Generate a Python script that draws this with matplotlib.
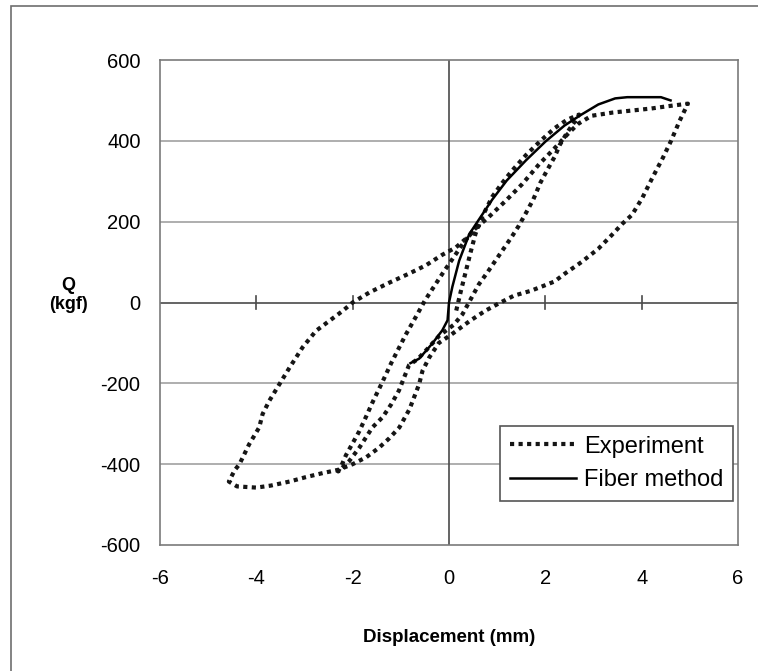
import matplotlib
matplotlib.use("Agg")
import matplotlib.pyplot as plt
from matplotlib.patches import Rectangle

plt.rcParams["font.family"] = ["Liberation Sans", "DejaVu Sans"]
plt.rcParams["axes.unicode_minus"] = False

# Experiment (cyclic test)
exp_x = [0.15, 0.25, 0.35, 0.45, 0.55, 0.7, 0.9, 1.1, 1.3, 1.6, 1.9, 2.2, 2.45, 2.7,
         2.6, 2.45, 2.3, 2.2, 2.05, 1.9, 1.75, 1.6, 1.45, 1.3, 1.0, 0.8, 0.62, 0.45,
         0.28, 0.1, -0.2, -0.45, -0.65, -0.83, -1.04, -1.2, -1.38, -1.59, -1.86,
         -2.07, -2.3,
         -2.22, -2.14, -2.0, -1.86, -1.72, -1.58, -1.38, -1.2, -1.05, -0.9, -0.7,
         -0.5, -0.28, -0.1, 0.0, 0.28, 0.5, 0.83, 1.18, 1.52, 1.87, 2.21, 2.45,
         2.68, 2.96,
         3.4, 3.8, 4.2, 4.5, 4.96,
         4.79, 4.61, 4.44, 4.22, 4.01, 3.8, 3.6, 3.38, 3.1, 2.75, 2.4, 2.19, 1.98,
         1.7, 1.35, 1.07, 0.76, 0.44, 0.04, -0.21, -0.41, -0.55, -0.62, -0.82,
         -1.03, -1.24, -1.45, -1.72, -2.0, -2.3,
         -2.62, -2.97, -3.31, -3.7, -4.0, -4.4, -4.57,
         -4.45, -4.35, -4.15, -3.94, -3.87, -3.73, -3.52, -3.31, -3.04, -2.76,
         -2.48, -2.21, -2.0, -1.65, -1.24, -0.82, -0.48, -0.14, 0.14, 0.42, 0.62]
exp_y = [-20, 30, 78, 125, 170, 215, 262, 295, 325, 365, 400, 432, 452, 465,
         446, 420, 390, 362, 330, 297, 255, 222, 190, 162, 110, 75, 45, 8,
         -29, -55, -82, -115, -140, -155, -218, -252, -284, -309, -359,
         -392, -418,
         -400, -378, -348, -318, -282, -245, -196, -150, -115, -80, -38,
         5, 45, 78, 95, 144, 178, 212, 252, 293, 342, 384, 415,
         442, 462,
         470, 475, 480, 485, 492,
         450, 400, 358, 308, 258, 217, 195, 167, 133, 100, 71, 52, 42,
         29, 17, 0, -20, -45, -80, -100, -136, -169, -202, -264,
         -309, -336, -359, -383, -400, -414,
         -422, -432, -443, -453, -458, -455, -443,
         -415, -400, -351, -309, -276, -243, -202, -161, -111, -70,
         -45, -21, 0, 25, 49, 72, 92, 118, 136, 165, 194]

# Fiber method (analysis)
fib_x = [-0.8, -0.62, -0.35, -0.14, -0.03, 0.0, 0.07, 0.21, 0.42, 0.62, 0.9, 1.2,
         1.6, 2.0, 2.4, 2.75, 3.1, 3.45, 3.7, 4.4, 4.6]
fib_y = [-150, -139, -102, -69, -44, 0, 39, 103, 169, 205, 255, 302,
         352, 398, 438, 465, 490, 505, 508, 508, 500]

x_ticks = [-6, -4, -2, 0, 2, 4, 6]
y_ticks = [-600, -400, -200, 0, 200, 400, 600]

fig = plt.figure(figsize=(7.58, 6.71), dpi=100)
ax = fig.add_axes([160 / 758, 1 - 545 / 671, 578 / 758, 485 / 671])

# outer frame of the figure (only left and top are visible)
fig.patches.append(Rectangle((11 / 758, -0.05), 1.2, 1.05 - 6 / 671,
                             transform=fig.transFigure, fill=False,
                             edgecolor="#6e6e6e", linewidth=1.2))

for yv in y_ticks[1:-1]:
    if yv != 0:
        ax.axhline(yv, color="#a8a8a8", linewidth=1.3, zorder=1)
ax.axhline(0, color="#4a4a4a", linewidth=1.2, zorder=1)
ax.axvline(0, color="#4a4a4a", linewidth=1.2, zorder=1)
# small ticks on the zero line
for xv in x_ticks[1:-1]:
    if xv != 0:
        ax.plot([xv, xv], [-16, 16], color="#4a4a4a", linewidth=1.2, zorder=1)

ax.plot(exp_x, exp_y, color="#151515", linewidth=3.0,
        linestyle=(0, (1, 1.05)), dash_capstyle="butt", label="Experiment", zorder=3)
ax.plot(fib_x, fib_y, color="black", linewidth=1.8, label="Fiber method", zorder=4)

ax.set_xlim(-6, 6)
ax.set_ylim(-600, 600)
ax.set_xticks(x_ticks)
ax.set_yticks(y_ticks)
ax.tick_params(axis="x", length=0, pad=17, labelsize=14.5)
ax.tick_params(axis="y", length=0, pad=14, labelsize=14.5)
for s in ax.spines.values():
    s.set_color("#7a7a7a")
    s.set_linewidth(1.2)

ax.set_xlabel("Displacement (mm)", fontsize=13.5, fontweight="bold", labelpad=30)
fig.text(68 / 758, 1 - 295 / 671, "Q\n(kgf)", ha="center", va="center",
         fontsize=13, fontweight="bold", linespacing=1.15)

leg = ax.legend(loc="upper right", bbox_to_anchor=(0.991, 0.245), borderaxespad=0,
                fontsize=17, frameon=True, fancybox=False, handlelength=2.8,
                handletextpad=0.35, labelspacing=0.5, borderpad=0.4)
leg.get_frame().set_edgecolor("#555555")
leg.get_frame().set_linewidth(1.2)
leg.get_frame().set_alpha(1)

fig.savefig("out.png", dpi=100)
